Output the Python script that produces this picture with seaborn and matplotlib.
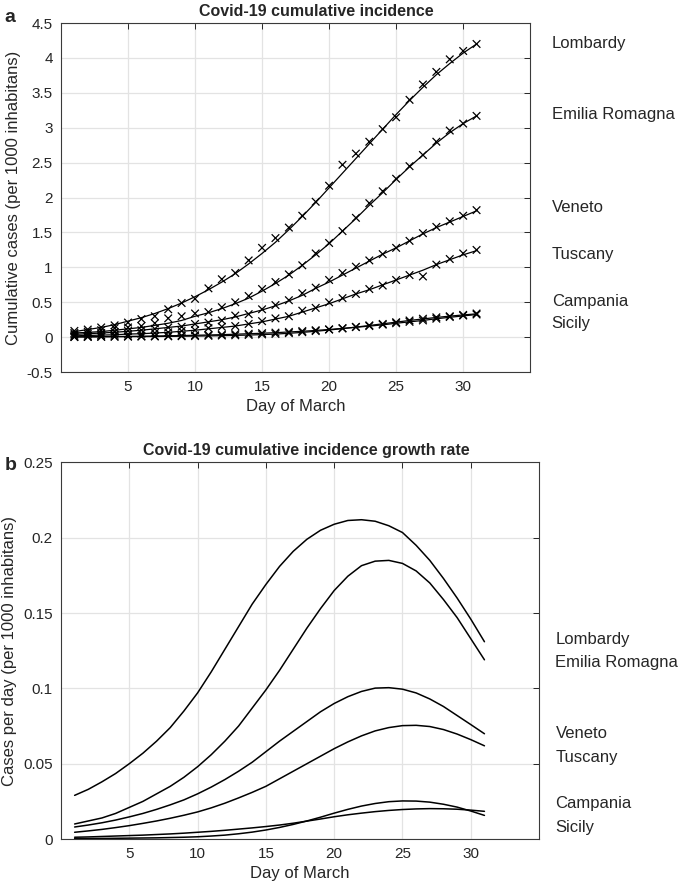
import numpy as np
import pandas as pd
import matplotlib
matplotlib.use("Agg")
import matplotlib.pyplot as plt
import seaborn as sns

# ---------------- data ----------------
days = list(range(1, 32))
regions = ["Lombardy", "Emilia Romagna", "Veneto", "Tuscany", "Campania", "Sicily"]

# panel a: observed cumulative incidence (markers)
lombardy_obs = [0.09, 0.11, 0.14, 0.17, 0.21, 0.26, 0.30, 0.40, 0.49, 0.55, 0.70, 0.83, 0.92, 1.10, 1.28, 1.42,
                1.57, 1.74, 1.94, 2.17, 2.47, 2.63, 2.80, 2.98, 3.15, 3.40, 3.62, 3.80, 3.98, 4.10, 4.20]
emilia_obs = [0.06, 0.08, 0.10, 0.13, 0.14, 0.16, 0.20, 0.27, 0.30, 0.34, 0.36, 0.43, 0.50, 0.59, 0.69, 0.79,
              0.90, 1.03, 1.20, 1.35, 1.52, 1.71, 1.92, 2.09, 2.27, 2.45, 2.61, 2.80, 2.96, 3.06, 3.17]
veneto_obs = [0.04, 0.05, 0.06, 0.075, 0.09, 0.10, 0.12, 0.14, 0.15, 0.19, 0.21, 0.24, 0.31, 0.33, 0.40, 0.46,
              0.53, 0.63, 0.71, 0.82, 0.92, 1.01, 1.10, 1.19, 1.28, 1.38, 1.49, 1.58, 1.66, 1.74, 1.82]
tuscany_obs = [0.02, 0.02, 0.03, 0.035, 0.04, 0.05, 0.06, 0.07, 0.09, 0.10, 0.13, 0.15, 0.16, 0.19, 0.23, 0.27,
               0.30, 0.38, 0.42, 0.50, 0.56, 0.62, 0.69, 0.74, 0.82, 0.89, 0.87, 1.04, 1.12, 1.20, 1.25]
campania_obs = [0.003, 0.004, 0.006, 0.007, 0.008, 0.009, 0.010, 0.012, 0.014, 0.016, 0.020, 0.024, 0.027, 0.032,
                0.040, 0.047, 0.058, 0.072, 0.088, 0.110, 0.125, 0.148, 0.170, 0.190, 0.215, 0.240, 0.265, 0.285,
                0.300, 0.320, 0.340]
sicily_obs = [0.004, 0.006, 0.008, 0.010, 0.012, 0.015, 0.017, 0.020, 0.024, 0.028, 0.033, 0.037, 0.045, 0.050,
              0.058, 0.066, 0.076, 0.088, 0.100, 0.112, 0.130, 0.145, 0.160, 0.180, 0.200, 0.220, 0.240, 0.265,
              0.290, 0.310, 0.325]

# panel a: fitted cumulative curves (lines)
lombardy_fit = [0.08, 0.11, 0.14, 0.18, 0.23, 0.28, 0.34, 0.41, 0.49, 0.58, 0.68, 0.79, 0.91, 1.05, 1.20, 1.36,
                1.54, 1.73, 1.93, 2.14, 2.35, 2.56, 2.77, 2.98, 3.19, 3.39, 3.58, 3.76, 3.92, 4.07, 4.20]
emilia_fit = [0.06, 0.07, 0.08, 0.10, 0.12, 0.14, 0.17, 0.20, 0.24, 0.30, 0.35, 0.41, 0.48, 0.56, 0.66, 0.77,
              0.89, 1.03, 1.18, 1.34, 1.52, 1.70, 1.89, 2.07, 2.26, 2.44, 2.61, 2.78, 2.93, 3.06, 3.17]
veneto_fit = [0.04, 0.05, 0.06, 0.07, 0.085, 0.10, 0.12, 0.14, 0.16, 0.19, 0.22, 0.25, 0.29, 0.34, 0.39, 0.45,
              0.52, 0.60, 0.70, 0.79, 0.89, 0.99, 1.09, 1.19, 1.28, 1.38, 1.48, 1.57, 1.65, 1.73, 1.81]
tuscany_fit = [0.02, 0.025, 0.03, 0.035, 0.045, 0.05, 0.06, 0.07, 0.085, 0.10, 0.12, 0.14, 0.16, 0.19, 0.22, 0.26,
               0.30, 0.36, 0.42, 0.48, 0.55, 0.62, 0.68, 0.75, 0.82, 0.89, 0.96, 1.04, 1.11, 1.18, 1.24]
campania_fit = [0.004, 0.005, 0.006, 0.007, 0.008, 0.009, 0.010, 0.012, 0.014, 0.016, 0.019, 0.022, 0.026, 0.031,
                0.037, 0.045, 0.056, 0.069, 0.085, 0.103, 0.123, 0.145, 0.168, 0.192, 0.216, 0.240, 0.262, 0.283,
                0.302, 0.319, 0.335]
sicily_fit = [0.005, 0.006, 0.008, 0.010, 0.012, 0.014, 0.017, 0.020, 0.024, 0.028, 0.032, 0.037, 0.043, 0.050,
              0.057, 0.065, 0.075, 0.085, 0.097, 0.111, 0.126, 0.142, 0.159, 0.177, 0.200, 0.220, 0.240, 0.265,
              0.285, 0.305, 0.325]

# panel b: growth rate (cases per day per 1000 inhabitants)
lombardy_rate = [0.029, 0.033, 0.038, 0.0435, 0.050, 0.057, 0.065, 0.074, 0.085, 0.097, 0.111, 0.126, 0.141, 0.156,
                 0.169, 0.181, 0.191, 0.199, 0.205, 0.209, 0.2115, 0.212, 0.211, 0.208, 0.2035, 0.195, 0.185, 0.173,
                 0.160, 0.146, 0.131]
emilia_rate = [0.010, 0.012, 0.014, 0.017, 0.021, 0.025, 0.030, 0.035, 0.041, 0.048, 0.056, 0.065, 0.075, 0.087,
               0.099, 0.112, 0.126, 0.140, 0.153, 0.165, 0.1745, 0.1815, 0.1845, 0.185, 0.183, 0.178, 0.170, 0.159,
               0.147, 0.133, 0.119]
veneto_rate = [0.008, 0.0093, 0.0108, 0.0126, 0.0147, 0.017, 0.0197, 0.0227, 0.026, 0.030, 0.0345, 0.0395, 0.045,
               0.051, 0.058, 0.065, 0.0715, 0.078, 0.0845, 0.090, 0.0945, 0.098, 0.1002, 0.1005, 0.0995, 0.097,
               0.093, 0.088, 0.082, 0.076, 0.0699]
tuscany_rate = [0.0045, 0.0054, 0.0064, 0.0076, 0.0089, 0.0104, 0.012, 0.0138, 0.0158, 0.018, 0.0207, 0.0238,
                0.0273, 0.031, 0.035, 0.040, 0.045, 0.050, 0.055, 0.060, 0.0645, 0.0685, 0.0718, 0.0740, 0.0753,
                0.0755, 0.0747, 0.0727, 0.0697, 0.0660, 0.0619]
campania_rate = [0.0003, 0.0003, 0.0004, 0.0005, 0.0006, 0.0007, 0.0008, 0.0010, 0.0012, 0.0015, 0.0020, 0.0026,
                 0.0035, 0.0046, 0.0060, 0.0077, 0.0097, 0.0120, 0.0145, 0.0172, 0.0197, 0.0219, 0.0236, 0.0248,
                 0.0253, 0.0252, 0.0245, 0.0231, 0.0212, 0.0186, 0.0157]
sicily_rate = [0.0012, 0.0014, 0.0017, 0.0020, 0.0023, 0.0026, 0.0030, 0.0034, 0.0039, 0.0045, 0.0051, 0.0058,
               0.0066, 0.0074, 0.0083, 0.0093, 0.0105, 0.0119, 0.0133, 0.0148, 0.0161, 0.0172, 0.0182, 0.0190,
               0.0196, 0.0200, 0.0202, 0.0201, 0.0198, 0.0192, 0.0184]

# right-hand labels (y positions in data units)
labels_a_y = [4.2, 3.19, 1.86, 1.19, 0.51, 0.19]
labels_b_y = [0.1327, 0.117, 0.0704, 0.0544, 0.0234, 0.0078]

xticks = [5, 10, 15, 20, 25, 30]
yticks_a = [-0.5, 0, 0.5, 1, 1.5, 2, 2.5, 3, 3.5, 4, 4.5]
ytick_labels_a = ["-0.5", "0", "0.5", "1", "1.5", "2", "2.5", "3", "3.5", "4", "4.5"]
yticks_b = [0, 0.05, 0.1, 0.15, 0.2, 0.25]
ytick_labels_b = ["0", "0.05", "0.1", "0.15", "0.2", "0.25"]

obs = [lombardy_obs, emilia_obs, veneto_obs, tuscany_obs, campania_obs, sicily_obs]
fit = [lombardy_fit, emilia_fit, veneto_fit, tuscany_fit, campania_fit, sicily_fit]
rate = [lombardy_rate, emilia_rate, veneto_rate, tuscany_rate, campania_rate, sicily_rate]

def long_df(series):
    rows = []
    for reg, vals in zip(regions, series):
        for d, v in zip(days, vals):
            rows.append({"day": d, "value": v, "region": reg})
    return pd.DataFrame(rows)

df_obs = long_df(obs)
df_fit = long_df(fit)
df_rate = long_df(rate)

# ---------------- style ----------------
sns.set_style("white")
plt.rcParams["font.family"] = ["Liberation Sans", "DejaVu Sans"]
plt.rcParams["axes.unicode_minus"] = False

fig = plt.figure(figsize=(6.85, 8.86), dpi=100)
ax1 = fig.add_axes([0.089, 0.580, 0.685, 0.394])
ax2 = fig.add_axes([0.089, 0.053, 0.698, 0.425])

black_pal = {r: "black" for r in regions}

sns.lineplot(data=df_fit, x="day", y="value", hue="region", palette=black_pal,
             legend=False, ax=ax1, linewidth=0.9)
sns.scatterplot(data=df_obs, x="day", y="value", hue="region", palette=black_pal,
                legend=False, ax=ax1, marker="x", s=30, linewidth=0.9)
sns.lineplot(data=df_rate, x="day", y="value", hue="region", palette=black_pal,
             legend=False, ax=ax2, linewidth=1.1)

def style_axes(ax, yticks, ylabels, ylim):
    ax.set_xlim(0, 35)
    ax.set_ylim(*ylim)
    ax.set_xticks(xticks)
    ax.set_xticklabels([str(t) for t in xticks])
    ax.set_yticks(yticks)
    ax.set_yticklabels(ylabels)
    ax.grid(True, color="#e3e3e3", linewidth=0.9)
    ax.set_axisbelow(True)
    for sp in ax.spines.values():
        sp.set_visible(True)
        sp.set_color("#3a3a3a")
        sp.set_linewidth(0.8)
    ax.tick_params(direction="in", length=4, width=0.7, colors="#262626",
                   top=True, right=True, labelsize=11, pad=6)
    ax.set_xlabel("Day of March", fontsize=12, labelpad=3)

style_axes(ax1, yticks_a, ytick_labels_a, (-0.5, 4.5))
style_axes(ax2, yticks_b, ytick_labels_b, (0, 0.25))
ax1.set_ylabel("Cumulative cases (per 1000 inhabitans)", fontsize=12, labelpad=4)
ax2.set_ylabel("Cases per day (per 1000 inhabitans)", fontsize=12, labelpad=4)

ax1.text(0.544, 1.012, "Covid-19 cumulative incidence", transform=ax1.transAxes,
         ha="center", va="bottom", fontsize=11.5, fontweight="bold")
ax2.text(0.514, 1.012, "Covid-19 cumulative incidence growth rate", transform=ax2.transAxes,
         ha="center", va="bottom", fontsize=11.5, fontweight="bold")

for reg, yv in zip(regions, labels_a_y):
    ax1.text(36.6, yv, reg, fontsize=12, ha="left", va="center", clip_on=False)
for reg, yv in zip(regions, labels_b_y):
    ax2.text(36.2, yv, reg, fontsize=12, ha="left", va="center", clip_on=False)

fig.text(4 / 685, 1 - 17 / 886, "a", fontsize=14, fontweight="bold", ha="left", va="center")
fig.text(5 / 685, 1 - 466 / 886, "b", fontsize=14, fontweight="bold", ha="left", va="center")

fig.savefig("out.png", dpi=100)
